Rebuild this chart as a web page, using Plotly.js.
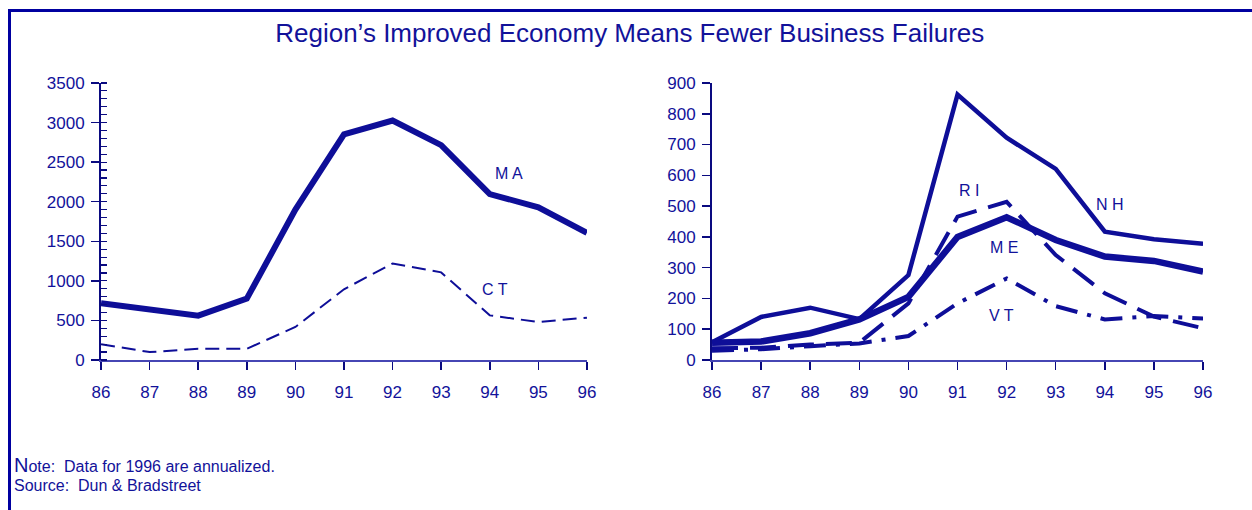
<!DOCTYPE html>
<html>
<head>
<meta charset="utf-8">
<script src="https://cdn.plot.ly/plotly-3.0.1.min.js"></script>
<style>
  html, body { margin: 0; padding: 0; background: #ffffff; }
  #wrap { position: relative; width: 1252px; height: 510px; overflow: hidden; }
  #chart { position: absolute; left: 0; top: 0; width: 1252px; height: 510px; }
  #frame { position: absolute; left: 8px; top: 9px; width: 1260px; height: 520px;
           border-left: 3px solid #0000a0; border-top: 3px solid #0000a0; pointer-events: none; }
</style>
</head>
<body>
<div id="wrap">
  <div id="chart"></div>
  <div id="frame"></div>
</div>
<script>
// ---- data ----
const years = [86, 87, 88, 89, 90, 91, 92, 93, 94, 95, 96];
const yearLabels = ["86", "87", "88", "89", "90", "91", "92", "93", "94", "95", "96"];

const MA = [718, 640, 560, 775, 1900, 2850, 3025, 2715, 2097, 1930, 1608];
const CT = [200, 100, 142, 142, 418, 894, 1220, 1107, 564, 480, 535];

const NH = [58, 140, 170, 133, 276, 862, 722, 621, 417, 392, 378];
const ME = [56, 60, 87, 132, 205, 400, 464, 390, 336, 322, 287];
const RI = [38, 40, 50, 56, 184, 466, 514, 341, 217, 141, 103];
const VT = [30, 35, 45, 54, 78, 184, 265, 175, 132, 143, 135];

const leftTicks = [0, 500, 1000, 1500, 2000, 2500, 3000, 3500];
const rightTicks = [0, 100, 200, 300, 400, 500, 600, 700, 800, 900];

const titleText = "Region\u2019s Improved Economy Means Fewer Business Failures";
const noteText = '<span style="font-size:20px">N</span>ote:&nbsp; Data for 1996 are annualized.';
const sourceText = "Source:&nbsp; Dun &amp; Bradstreet";

// ---- style ----
const NAVY = "#0e0e98";
const TEXT = "#12129a";
const FONT = "Arial, 'Liberation Sans', sans-serif";

function line(x, y, xa, ya, width, dash) {
  return { x: x, y: y, xaxis: xa, yaxis: ya, type: "scatter", mode: "lines",
           line: { color: NAVY, width: width, dash: dash || "solid" },
           hoverinfo: "skip", showlegend: false };
}

const traces = [
  line(years, MA, "x", "y", 6),
  line(years, CT, "x", "y", 2, "14px,7px"),
  line(years, NH, "x2", "y2", 4.5),
  line(years, ME, "x2", "y2", 6.5),
  line(years, RI, "x2", "y2", 4, "26px,12px"),
  line(years, VT, "x2", "y2", 4, "22px,10px,4px,10px")
];

const yDom = [0.2941, 0.8373];

function xaxisDef(domain, anchor) {
  return {
    domain: domain, anchor: anchor, range: [86, 96], autorange: false,
    tickvals: years, ticktext: yearLabels,
    showline: true, linecolor: "#4646b4", linewidth: 2,
    ticks: "outside", ticklen: 8, tickwidth: 1.5, tickcolor: "#0a0a80",
    showgrid: false, zeroline: false,
    tickfont: { family: FONT, size: 17, color: TEXT },
    ticklabelstandoff: 8, fixedrange: true
  };
}
function yaxisDef(range, ticks, anchor) {
  return {
    domain: yDom, anchor: anchor, range: range, autorange: false,
    tickvals: ticks, ticktext: ticks.map(String),
    showline: true, linecolor: "#0a0a80", linewidth: 2,
    ticks: "outside", ticklen: 8, tickwidth: 1.5, tickcolor: "#0a0a80",
    showgrid: false, zeroline: false,
    tickfont: { family: FONT, size: 17, color: TEXT },
    ticklabelstandoff: 3, fixedrange: true
  };
}

const xa1 = xaxisDef([0.0807, 0.4688], "y");
const xa2 = xaxisDef([0.5687, 0.9609], "y2");
const ya1 = yaxisDef([0, 3500], leftTicks, "x");
ya1.minor = { dtick: 100, ticks: "inside", ticklen: 6, tickwidth: 1.2, tickcolor: "#0a0a80", showgrid: false };
const ya2 = yaxisDef([0, 900], rightTicks, "x2");

// inside halves of the crossing ticks
function overlayX(base, over, anchor) {
  return { domain: base.domain, overlaying: over, anchor: anchor, range: [86, 96], autorange: false,
           tickvals: years, showticklabels: false, showline: false, showgrid: false, zeroline: false,
           ticks: "inside", ticklen: 7, tickwidth: 1.5, tickcolor: "#0a0a80", fixedrange: true };
}
function overlayY(range, ticks, over, anchor) {
  return { domain: yDom, overlaying: over, anchor: anchor, range: range, autorange: false,
           tickvals: ticks, showticklabels: false, showline: false, showgrid: false, zeroline: false,
           ticks: "inside", ticklen: 8, tickwidth: 1.5, tickcolor: "#0a0a80", fixedrange: true };
}

function lab(text, x, y, xr, yr) {
  return { text: text, x: x, y: y, xref: xr, yref: yr, showarrow: false,
           font: { family: FONT, size: 16, color: TEXT } };
}

const layout = {
  width: 1252, height: 510,
  margin: { l: 0, r: 0, t: 0, b: 0 },
  paper_bgcolor: "#ffffff", plot_bgcolor: "#ffffff",
  showlegend: false,
  title: { text: titleText, x: 0.503, xanchor: "center", y: 0.935, yanchor: "middle",
           font: { family: FONT, size: 26, color: TEXT } },
  xaxis: xa1, yaxis: ya1, xaxis2: xa2, yaxis2: ya2,
  xaxis3: overlayX(xa1, "x", "y"), yaxis3: overlayY([0, 3500], leftTicks, "y", "x"),
  xaxis4: overlayX(xa2, "x2", "y2"), yaxis4: overlayY([0, 900], rightTicks, "y2", "x2"),
  annotations: [
    lab("M A", 94.4, 2350, "x", "y"),
    lab("C T", 94.1, 885, "x", "y"),
    lab("R I", 91.23, 552, "x2", "y2"),
    lab("N H", 94.1, 504, "x2", "y2"),
    lab("M E", 91.95, 364, "x2", "y2"),
    lab("V T", 91.9, 146, "x2", "y2"),
    { text: noteText, xref: "paper", yref: "paper", x: 12 / 1252, y: (510 - 465) / 510,
      xanchor: "left", yanchor: "middle", showarrow: false, align: "left",
      font: { family: FONT, size: 16, color: TEXT } },
    { text: sourceText, xref: "paper", yref: "paper", x: 12 / 1252, y: (510 - 485) / 510,
      xanchor: "left", yanchor: "middle", showarrow: false, align: "left",
      font: { family: FONT, size: 16, color: TEXT } }
  ]
};

Plotly.newPlot("chart", traces, layout, { displayModeBar: false, staticPlot: true });
</script>
</body>
</html>
